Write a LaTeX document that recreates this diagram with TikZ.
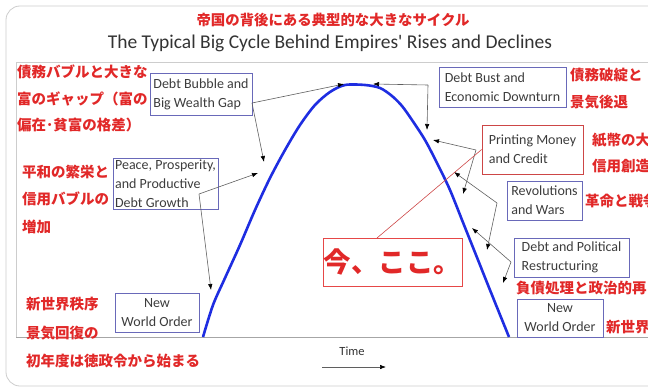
\documentclass[tikz,border=0pt]{standalone}
\usepackage{fontspec}
\setmainfont{Carlito}
\newfontfamily\jp{Noto Sans CJK JP}
\usetikzlibrary{arrows.meta}
\definecolor{bleucourbe}{RGB}{30,45,225}
\definecolor{bleuboite}{RGB}{105,105,185}
\definecolor{rougejp}{RGB}{225,40,40}
\definecolor{rougeboite}{RGB}{205,70,70}
\definecolor{texteboite}{RGB}{60,60,60}
\definecolor{grisfleche}{RGB}{95,95,95}
\definecolor{griscadre}{RGB}{205,205,205}
\tikzset{
	boite/.style={draw=bleuboite, line width=0.7pt, text=texteboite, font=\fontsize{14}{19}\selectfont, inner sep=0pt, align=left},
	rouge/.style={text=rougejp, font=\jp\bfseries\fontsize{14.5}{#1}\selectfont, anchor=west, align=left, inner sep=0pt},
	rouge/.default=27,
	fleche/.style={draw=grisfleche, line width=0.6pt, -{Latex[length=6pt,width=4.5pt,color=black]}},
}
\begin{document}
\begin{tikzpicture}[x=1pt,y=-1pt]
	\useasboundingbox (0,0) rectangle (648,388);
	\clip (0,0) rectangle (648,388);
%					Tracé du cadre :
	\draw[griscadre, line width=0.8pt, rounded corners=14pt] (6,6) rectangle (700,386);
	\draw[griscadre, line width=0.8pt] (648,62) -- (16,62) -- (16,337);
	\draw[gray!70, line width=0.8pt] (16,337) -- (648,337);
%					Titres :
	\node[text=rougejp, font=\jp\bfseries\fontsize{14.4}{17}\selectfont] (titrejp) at (333,20) {帝国の背後にある典型的な大きなサイクル};
	\node[text=black!80, font=\fontsize{19.5}{22}\selectfont] (titre) at (330,43) {The Typical Big Cycle Behind Empires\textquotesingle{} Rises and Declines};
%					Tracé de la courbe :
	\draw[bleucourbe, line width=2.6pt, line join=round] plot[smooth, tension=0.5] coordinates {
		(203,337) (213,305) (225,278) (240,245) (255,210) (270,178) (285,150) (300,125) (315,105) (330,92) (345,85)
		(365,85) (380,88) (392,96) (402,106) (412,120) (425,140) (437,163) (450,190) (464,225) (478,260) (492,295) (509,337)};
%					Boîtes :
	\node[boite, minimum width=102pt, minimum height=42pt] (bulle) at (201,94) {Debt Bubble and\\Big Wealth Gap};
	\node[boite, minimum width=105pt, minimum height=51pt] (paix) at (165.5,183.5) {Peace, Prosperity,\\and Productive\\Debt Growth};
	\node[boite, align=center, minimum width=84pt, minimum height=39pt] (ordreG) at (157,312.5) {New\\World Order};
	\node[boite, minimum width=127pt, minimum height=40pt] (krach) at (502.5,87) {Debt Bust and\\Economic Downturn};
	\node[boite, draw=rougeboite, minimum width=101pt, minimum height=49pt] (billets) at (532.5,149.5) {Printing Money\\and Credit};
	\node[boite, minimum width=75pt, minimum height=39pt] (guerres) at (544.5,200.5) {Revolutions\\and Wars};
	\node[boite, minimum width=115pt, minimum height=39pt] (restruct) at (571.5,257.5) {Debt and Political\\Restructuring};
	\node[boite, align=center, minimum width=86pt, minimum height=38pt] (ordreD) at (560,318) {New\\World Order};
	\node[draw=rougejp!85, line width=0.8pt, text=rougejp, font=\jp\bfseries\fontsize{27.5}{30}\selectfont, minimum width=139pt, minimum height=48pt, inner sep=0pt] (ici) at (392.5,262) {今、ここ。};
%					Flèches :
	\coordinate (bulleK) at (252,103);
	\coordinate (paixK) at (199,194);
	\coordinate (krachK) at (428,85);
	\coordinate (billetsK) at (476,150);
	\coordinate (guerresK) at (497,203);
	\coordinate (restructK) at (511,262);
	\coordinate (iciK) at (377,238);
	\draw[fleche] (bulleK) -- (344,84);
	\draw[fleche] (bulleK) -- (264,162);
	\draw[fleche] (paixK) -- (258,173);
	\draw[fleche] (paixK) -- (211,290);
	\draw[fleche] (krachK) -- (373,84);
	\draw[fleche] (krachK) -- (427,130);
	\draw[fleche] (billetsK) -- (433,140);
	\draw[fleche] (billetsK) -- (463,194);
	\draw[fleche] (guerresK) -- (454,172);
	\draw[fleche] (guerresK) -- (487,250);
	\draw[fleche] (restructK) -- (472,228);
	\draw[fleche] (restructK) -- (503,283);
	\draw[rougeboite, line width=0.6pt] (iciK) -- (billets.west);
%					Textes en japonais :
	\node[rouge=26.5] (jpBulle) at (17,98.5) {債務バブルと大きな\\富のギャップ（富の\\偏在･貧富の格差）};
	\node[rouge=27.5] (jpPaix) at (22,199) {平和の繁栄と\\信用バブルの\\増加};
	\node[rouge=28.5] (jpOrdreG) at (26,333) {新世界秩序\\景気回復の\\初年度は徳政令から始まる};
	\node[rouge] (jpKrach) at (570,88.5) {債務破綻と\\景気後退};
	\node[rouge=26] (jpBillets) at (592,153) {紙幣の大\\信用創造};
	\node[rouge] (jpGuerres) at (585,201) {革命と戦争};
	\node[rouge] (jpRestruct) at (516,288) {負債処理と政治的再};
	\node[rouge] (jpOrdreD) at (606,327) {新世界};
%					Axe du temps :
	\node[text=black!80, font=\fontsize{12.5}{14}\selectfont] (temps) at (352,351) {Time};
	\coordinate (tempsA) at (322,367);
	\coordinate (tempsB) at (386,367);
	\draw[fleche] (tempsA) -- (tempsB);
\end{tikzpicture}
\end{document}
